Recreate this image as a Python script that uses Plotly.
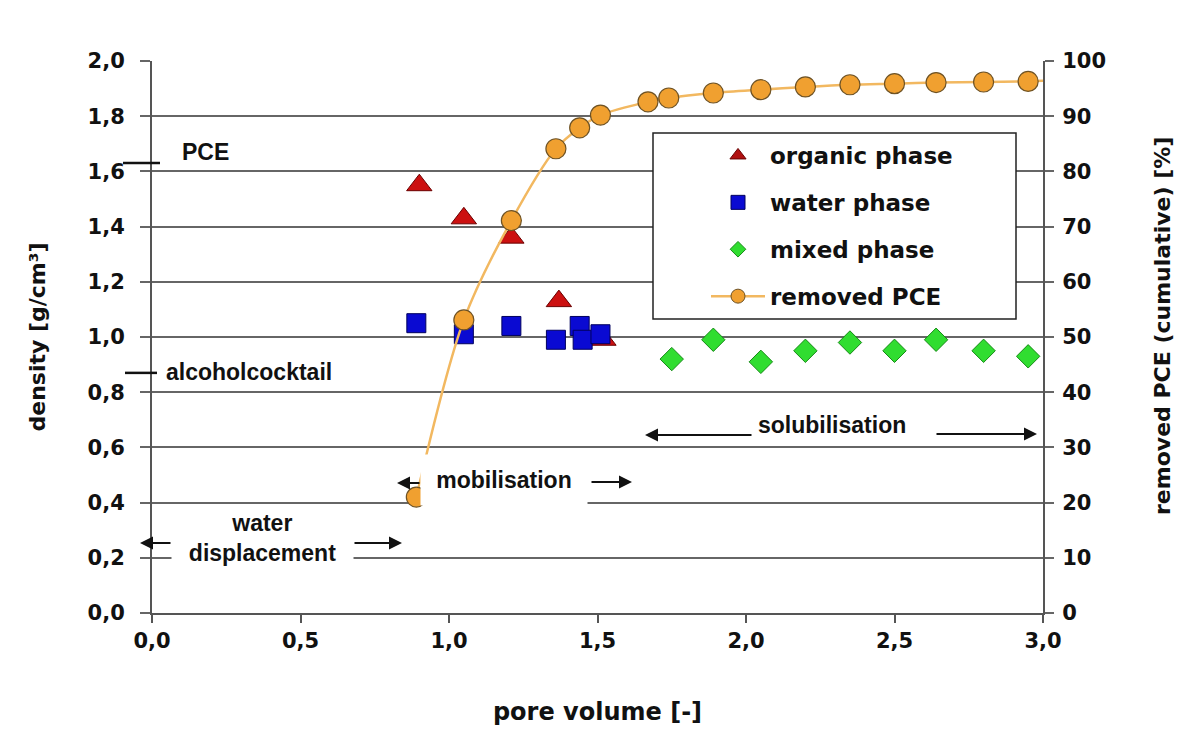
import plotly.graph_objects as go

# ---------------- data ----------------
organic_pv = [0.90, 1.05, 1.21, 1.37, 1.52]
organic_density = [1.55, 1.43, 1.36, 1.13, 0.99]

water_pv = [0.89, 1.05, 1.21, 1.36, 1.44, 1.45, 1.51]
water_density = [1.05, 1.01, 1.04, 0.99, 1.04, 0.99, 1.01]

mixed_pv = [1.75, 1.89, 2.05, 2.20, 2.35, 2.50, 2.64, 2.80, 2.95]
mixed_density = [0.92, 0.99, 0.91, 0.95, 0.98, 0.95, 0.99, 0.95, 0.93]

pce_pv = [0.89, 1.05, 1.21, 1.36, 1.44, 1.51, 1.67, 1.74, 1.89, 2.05, 2.20, 2.35, 2.50, 2.64, 2.80, 2.95]
pce_removed = [21.0, 53.1, 71.1, 84.1, 87.9, 90.2, 92.6, 93.3, 94.2, 94.8, 95.3, 95.7, 95.9, 96.1, 96.2, 96.3]
# fitted curve continues to the right axis
curve_end_pv = [3.0]
curve_end_removed = [96.4]

x_ticks = [0.0, 0.5, 1.0, 1.5, 2.0, 2.5, 3.0]
y_ticks = [0.0, 0.2, 0.4, 0.6, 0.8, 1.0, 1.2, 1.4, 1.6, 1.8, 2.0]
y2_ticks = [0, 10, 20, 30, 40, 50, 60, 70, 80, 90, 100]

legend_names = ["organic phase", "water phase", "mixed phase", "removed PCE"]
pce_density = 1.63
cocktail_density = 0.87

# ---------------- styling ----------------
OFF = 8  # default page body margin
W, H = 1200 - 2 * OFF, 751 - 2 * OFF
L, T = 152 - OFF, 61 - OFF
R = W - (1043 - OFF)
B = H - (613 - OFF)
PW, PH = W - L - R, H - T - B

def px_x(p):  # screen pixel -> paper x
    return (p - OFF - L) / PW

def px_y(p):  # screen pixel -> paper y
    return (H - B - (p - OFF)) / PH

TXT = "#111111"
GRID = "#666666"
tick_font = dict(family="DejaVu Sans", size=21, color=TXT, weight="bold")
anno_font = dict(family="Liberation Sans", size=23, color=TXT, weight="bold")

RED, RED_E = "#cc1010", "#6a0000"
BLUE, BLUE_E = "#0a0ad2", "#00005e"
GREEN, GREEN_E = "#30dd30", "#168a16"
ORANGE, ORANGE_E = "#f0a030", "#6e5224"
ORANGE_LINE = "#f2b860"

fig = go.Figure()

fig.add_trace(go.Scatter(x=organic_pv, y=organic_density, mode="markers", showlegend=False,
                         marker=dict(symbol="triangle-up", size=22, color=RED, line=dict(color=RED_E, width=1))))
fig.add_trace(go.Scatter(x=water_pv, y=water_density, mode="markers", showlegend=False,
                         marker=dict(symbol="square", size=19, color=BLUE, line=dict(color=BLUE_E, width=1))))
fig.add_trace(go.Scatter(x=mixed_pv, y=mixed_density, mode="markers", showlegend=False,
                         marker=dict(symbol="diamond", size=18, color=GREEN, line=dict(color=GREEN_E, width=1))))
fig.add_trace(go.Scatter(x=pce_pv + curve_end_pv, y=pce_removed + curve_end_removed, mode="lines",
                         yaxis="y2", showlegend=False,
                         line=dict(color=ORANGE_LINE, width=2.5, shape="spline", smoothing=0.9)))
fig.add_trace(go.Scatter(x=pce_pv, y=pce_removed, mode="markers", yaxis="y2", showlegend=False,
                         marker=dict(symbol="circle", size=20, color=ORANGE, line=dict(color=ORANGE_E, width=1.2))))

# legend-only entries
leg_styles = [
    dict(mode="markers", marker=dict(symbol="triangle-up", size=14, color="#b01010", line=dict(color=RED_E, width=1))),
    dict(mode="markers", marker=dict(symbol="square", size=14, color=BLUE, line=dict(color=BLUE_E, width=1))),
    dict(mode="markers", marker=dict(symbol="diamond", size=12, color=GREEN, line=dict(color=GREEN_E, width=1))),
    dict(mode="lines+markers", marker=dict(symbol="circle", size=14, color=ORANGE, line=dict(color=ORANGE_E, width=1)),
         line=dict(color=ORANGE_LINE, width=2.5)),
]
for i, (name, st) in enumerate(zip(legend_names, leg_styles)):
    fig.add_trace(go.Scatter(x=[None], y=[None], name=name, legendgroup=f"g{i}", showlegend=True, **st))

shapes = []
# legend box
shapes.append(dict(type="rect", xref="paper", yref="paper", x0=px_x(653), x1=px_x(1016), y0=px_y(319), y1=px_y(133),
                   fillcolor="white", line=dict(color="#222222", width=1.5), layer="above"))
# reference density marks
shapes.append(dict(type="line", xref="paper", yref="y", x0=px_x(123), x1=px_x(160), y0=pce_density, y1=pce_density,
                   line=dict(color="#111111", width=2.5), layer="above"))
shapes.append(dict(type="line", xref="paper", yref="y", x0=px_x(125), x1=px_x(157), y0=cocktail_density, y1=cocktail_density,
                   line=dict(color="#111111", width=2.5), layer="above"))

annotations = []
annotations.append(dict(text="PCE", xref="paper", yref="paper", x=px_x(180), y=px_y(152), xanchor="left",
                        yanchor="middle", showarrow=False, font=anno_font))
annotations.append(dict(text="alcoholcocktail", xref="paper", yref="paper", x=px_x(164), y=px_y(372), xanchor="left",
                        yanchor="middle", showarrow=False, font=anno_font))
annotations.append(dict(text="water<br>displacement", xref="paper", yref="paper", x=px_x(262), y=px_y(538),
                        xanchor="center", yanchor="middle", showarrow=False, font=anno_font, align="center",
                        bgcolor="white", width=181, height=58, borderpad=0))
annotations.append(dict(text="mobilisation", xref="paper", yref="paper", x=px_x(504), y=px_y(480),
                        xanchor="center", yanchor="middle", showarrow=False, font=anno_font, align="center",
                        bgcolor="white", width=166, height=50, borderpad=0))
annotations.append(dict(text="solubilisation", xref="paper", yref="paper", x=px_x(832), y=px_y(425),
                        xanchor="center", yanchor="middle", showarrow=False, font=anno_font))
# right axis title
annotations.append(dict(text="removed PCE (cumulative) [%]", xref="paper", yref="paper", x=px_x(1162), y=px_y(326),
                        xanchor="center", yanchor="middle", textangle=-90, showarrow=False,
                        font=dict(family="DejaVu Sans", size=22, color=TXT, weight="bold")))

# arrows: (head_px_x, tail_px_x, px_y)
arrows = [(140, 172, 543), (402, 353, 543), (397, 421, 483), (632, 590, 482), (645, 753, 435), (1037, 935, 434)]
for hx, tx, yy in arrows:
    annotations.append(dict(text="", xref="paper", yref="paper", x=px_x(hx), y=px_y(yy),
                            axref="pixel", ayref="pixel", ax=tx - hx, ay=0, showarrow=True,
                            arrowhead=2, arrowsize=1.3, arrowwidth=2, arrowcolor="#111111", standoff=0))

fig.update_layout(
    width=W, height=H,
    margin=dict(l=L, r=R, t=T, b=B),
    paper_bgcolor="white",
    plot_bgcolor="white",
    separators=",.",
    font=dict(family="DejaVu Sans", color=TXT),
    xaxis=dict(range=[0, 3], tickvals=x_ticks, tickformat=".1f", showgrid=False, zeroline=False,
               showline=True, linecolor="#555555", linewidth=2, ticks="outside", ticklen=8, tickwidth=2,
               tickcolor="#555555", tickfont=tick_font, ticklabelstandoff=0,
               title=dict(text="pore volume [-]", font=dict(family="DejaVu Sans", size=24, color=TXT, weight="bold"),
                          standoff=51)),
    yaxis=dict(range=[0, 2], tickvals=y_ticks, tickformat=".1f", showgrid=True, gridcolor=GRID, gridwidth=2,
               zeroline=False, showline=True, linecolor="#555555", linewidth=2, ticks="outside", ticklen=10,
               tickwidth=2, tickcolor=GRID, tickfont=tick_font, ticklabelstandoff=11,
               title=dict(text="density [g/cm³]", font=dict(family="DejaVu Sans", size=22, color=TXT, weight="bold"),
                          standoff=36)),
    yaxis2=dict(range=[0, 100], tickvals=y2_ticks, overlaying="y", side="right", showgrid=False, zeroline=False,
                showline=True, linecolor="#555555", linewidth=2, ticks="outside", ticklen=9, tickwidth=2,
                tickcolor=GRID, tickfont=tick_font, ticklabelstandoff=4),
    legend=dict(x=px_x(706), y=px_y(134), xanchor="left", yanchor="top", bgcolor="rgba(0,0,0,0)",
                borderwidth=0, font=dict(family="DejaVu Sans", size=23, color=TXT, weight="bold"),
                itemwidth=54, tracegroupgap=14, traceorder="grouped"),
    shapes=shapes,
    annotations=annotations,
)

fig.write_html("out.html")
